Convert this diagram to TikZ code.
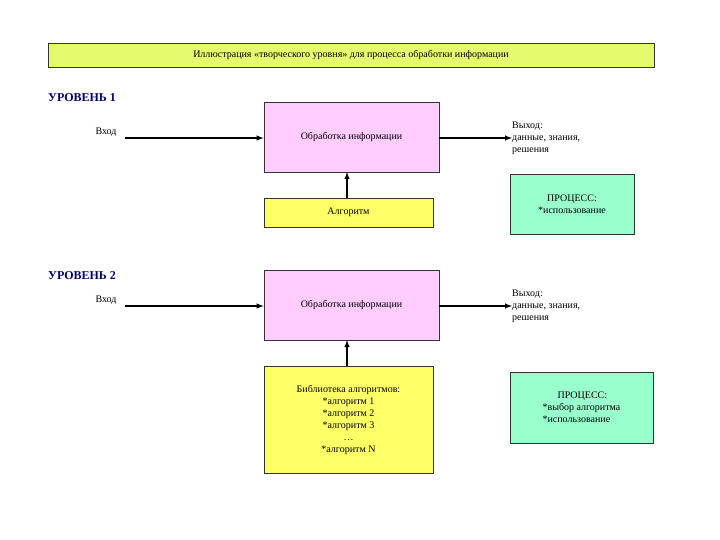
\documentclass[tikz,border=0pt]{standalone}
\usepackage{fontspec}
\setmainfont{Liberation Serif}
\begin{document}
\begin{tikzpicture}[x=1pt,y=-1pt,
  box/.style={draw=black!80,line width=0.8pt,inner sep=0pt},
  txt/.style={font=\fontsize{10}{12}\selectfont},
  arr/.style={line width=1.4pt,-latex},
  lvl/.style={font=\fontsize{12}{14}\selectfont\bfseries,text=blue!40!black,anchor=west,inner sep=0pt}]
\useasboundingbox[fill=white] (0,0) rectangle (720,540);
\node[box,fill={rgb,255:red,230;green,250;blue,110},minimum width=606pt,minimum height=24pt,txt] (title) at (351,55) {Иллюстрация «творческого уровня» для процесса обработки информации};
\node[lvl] (l1) at (48,98) {УРОВЕНЬ 1};
\node[lvl] (l2) at (48,276) {УРОВЕНЬ 2};
% level 1
\node[txt,inner sep=0pt] (in1) at (106,132) {Вход};
\node[box,fill={rgb,255:red,255;green,204;blue,255},minimum width=175pt,minimum height=70pt,txt] (p1) at (351.5,137) {Обработка информации};
\node[box,fill={rgb,255:red,255;green,255;blue,102},minimum width=169pt,minimum height=29pt,txt] (a1) at (348.5,212.5) {Алгоритм};
\node[txt,align=left,anchor=west,inner sep=0pt] (o1) at (512,138) {Выход:\\данные, знания,\\решения};
\node[box,fill={rgb,255:red,153;green,255;blue,204},minimum width=124pt,minimum height=60pt,txt,align=center] (g1) at (572,204) {ПРОЦЕСС:\\*использование};
\coordinate (s1) at (125,138);
\draw[arr] (s1) -- (p1.west|-s1);
\draw[arr] (p1.east|-s1) -- (o1.west|-s1);
\draw[arr] (a1.north-|347,0) -- (347,172);
% level 2
\node[txt,inner sep=0pt] (in2) at (106,300) {Вход};
\node[box,fill={rgb,255:red,255;green,204;blue,255},minimum width=175pt,minimum height=70pt,txt] (p2) at (351.5,305) {Обработка информации};
\node[box,fill={rgb,255:red,255;green,255;blue,102},minimum width=169pt,minimum height=107pt,txt,align=center] (a2) at (348.5,419.5) {Библиотека алгоритмов:\\*алгоритм 1\\*алгоритм 2\\*алгоритм 3\\\dots\\*алгоритм N};
\node[txt,align=left,anchor=west,inner sep=0pt] (o2) at (512,306) {Выход:\\данные, знания,\\решения};
\node[box,fill={rgb,255:red,153;green,255;blue,204},minimum width=143pt,minimum height=71pt,txt,align=left] (g2) at (581.5,407.5) {\hspace*{1.5em}ПРОЦЕСС:\\*выбор алгоритма\\*использование};
\coordinate (s2) at (125,306);
\draw[arr] (s2) -- (p2.west|-s2);
\draw[arr] (p2.east|-s2) -- (o2.west|-s2);
\draw[arr] (a2.north-|347,0) -- (347,340);
\end{tikzpicture}
\end{document}
